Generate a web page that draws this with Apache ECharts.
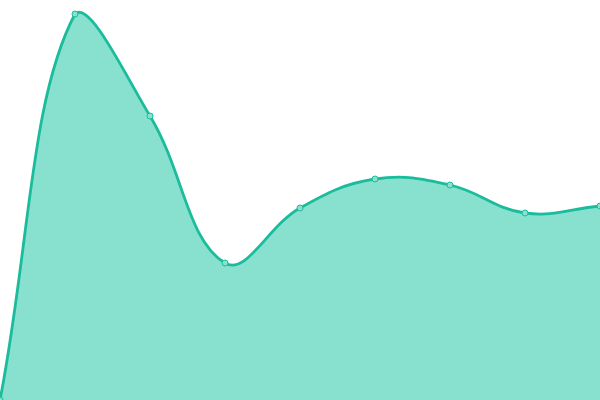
<!DOCTYPE html>
<html>
<head>
<meta charset="utf-8">
<script src="https://cdn.jsdelivr.net/npm/echarts@6/dist/echarts.min.js"></script>
<style>html,body{margin:0;padding:0;background:#fff;}#c{width:600px;height:400px;}</style>
</head>
<body>
<div id="c"></div>
<script>
var categories = ['1','2','3','4','5','6','7','8','9'];
var values = [0, 386, 284, 137, 192, 221, 215, 187, 194];

var TENSION = 0.4;

function renderItem(params, api) {
  if (params.dataIndex !== 0) return null;
  var cs = params.coordSys;
  var pts = values.map(function (v, i) { return api.coord([i, v]); });
  var n = pts.length;
  function cap(p) {
    return [Math.max(cs.x, Math.min(cs.x + cs.width, p[0])),
            Math.max(cs.y, Math.min(cs.y + cs.height, p[1]))];
  }
  var cpPrev = [], cpNext = [];
  for (var i = 0; i < n; i++) {
    var prev = pts[Math.max(0, i - 1)], cur = pts[i], next = pts[Math.min(n - 1, i + 1)];
    var d01 = Math.hypot(cur[0] - prev[0], cur[1] - prev[1]);
    var d12 = Math.hypot(next[0] - cur[0], next[1] - cur[1]);
    var s01 = d01 / (d01 + d12 || 1), s12 = d12 / (d01 + d12 || 1);
    var fa = TENSION * s01, fb = TENSION * s12;
    cpPrev[i] = cap([cur[0] - fa * (next[0] - prev[0]), cur[1] - fa * (next[1] - prev[1])]);
    cpNext[i] = cap([cur[0] + fb * (next[0] - prev[0]), cur[1] + fb * (next[1] - prev[1])]);
  }
  var d = 'M' + pts[0][0] + ' ' + pts[0][1];
  for (var j = 1; j < n; j++) {
    d += ' C' + cpNext[j - 1][0] + ' ' + cpNext[j - 1][1] + ' ' + cpPrev[j][0] + ' ' + cpPrev[j][1] + ' ' + pts[j][0] + ' ' + pts[j][1];
  }
  var bottom = cs.y + cs.height;
  var area = d + ' L' + pts[n - 1][0] + ' ' + bottom + ' L' + pts[0][0] + ' ' + bottom + ' Z';
  var children = [
    {type: 'path', shape: {pathData: area}, style: {fill: '#88e0cf', stroke: null}},
    {type: 'path', shape: {pathData: d}, style: {fill: null, stroke: '#1abc9c', lineWidth: 2.8}}
  ];
  pts.forEach(function (p) {
    children.push({type: 'circle', shape: {cx: p[0], cy: p[1], r: 3},
      style: {fill: '#88e0cf', stroke: '#1abc9c', lineWidth: 1}});
  });
  return {type: 'group', children: children};
}

var chart = echarts.init(document.getElementById('c'));
chart.setOption({
  animation: false,
  grid: {left: 0, right: 0, top: 0, bottom: 0},
  xAxis: {type: 'category', data: categories, boundaryGap: false, show: false},
  yAxis: {type: 'value', min: 0, max: 400, show: false},
  series: [{
    type: 'custom',
    renderItem: renderItem,
    clip: false,
    data: values.map(function (v, i) { return [i, v]; })
  }]
});
</script>
</body>
</html>
